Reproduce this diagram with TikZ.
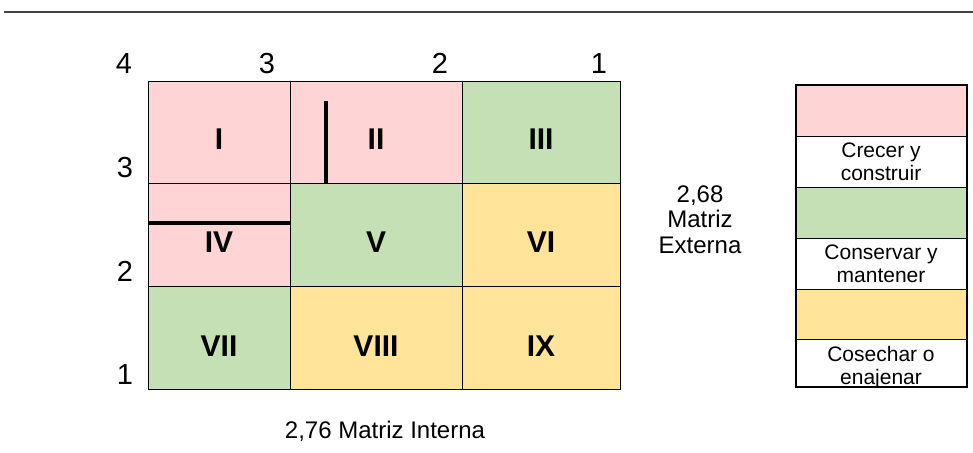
\documentclass[tikz,border=0pt]{standalone}
\usepackage{fontspec}
\setmainfont{Liberation Sans}
\definecolor{rojo}{HTML}{FFD4D4}
\definecolor{verde}{HTML}{C5E0B4}
\definecolor{amarillo}{HTML}{FFE499}
\definecolor{regla}{HTML}{444444}
\tikzset{
  cell/.style={draw=black, line width=1.3pt, inner sep=0pt, anchor=north west},
  roman/.style={anchor=base, font=\fontsize{30}{30}\selectfont\bfseries, inner sep=0pt},
  axisnum/.style={anchor=base, font=\fontsize{29}{29}\selectfont, inner sep=0pt},
  body/.style={font=\fontsize{21}{24}\selectfont, inner sep=0pt, align=center},
  caption/.style={font=\fontsize{24}{26}\selectfont, inner sep=0pt, anchor=base},
  legswatch/.style={draw=black, line width=1.2pt, inner sep=0pt, anchor=north west, minimum width=170pt},
  thickbar/.style={line width=4pt, black}
}
\begin{document}
\begin{tikzpicture}[x=1pt,y=-1pt]
\useasboundingbox (0,0) rectangle (973,452);

% rule across the top
\coordinate (ruleL) at (4,12);
\coordinate (ruleR) at (973,12);
\draw[regla, line width=2pt] (ruleL) -- (ruleR);

% 3x3 matrix cells (columns 148/290/462/620, rows 80.5/183/286/389)
\node[cell, fill=rojo,     minimum width=142pt, minimum height=102.5pt] (c1) at (148,80.5) {};
\node[cell, fill=rojo,     minimum width=172pt, minimum height=102.5pt] (c2) at (290,80.5) {};
\node[cell, fill=verde,    minimum width=158pt, minimum height=102.5pt] (c3) at (462,80.5) {};
\node[cell, fill=rojo,     minimum width=142pt, minimum height=103pt]   (c4) at (148,183) {};
\node[cell, fill=verde,    minimum width=172pt, minimum height=103pt]   (c5) at (290,183) {};
\node[cell, fill=amarillo, minimum width=158pt, minimum height=103pt]   (c6) at (462,183) {};
\node[cell, fill=verde,    minimum width=142pt, minimum height=103pt]   (c7) at (148,286) {};
\node[cell, fill=amarillo, minimum width=172pt, minimum height=103pt]   (c8) at (290,286) {};
\node[cell, fill=amarillo, minimum width=158pt, minimum height=103pt]   (c9) at (462,286) {};

% quadrant numerals
\node[roman] (r1) at (219,149) {I};
\node[roman] (r2) at (376,149) {II};
\node[roman] (r3) at (541,149) {III};
\node[roman] (r4) at (219,252) {IV};
\node[roman] (r5) at (376,252) {V};
\node[roman] (r6) at (541,252) {VI};
\node[roman] (r7) at (219,356) {VII};
\node[roman] (r8) at (376,356) {VIII};
\node[roman] (r9) at (541,356) {IX};

% position markers
\coordinate (vTop) at (326,101);
\coordinate (vBot) at (326,183);
\draw[thickbar] (vTop) -- (vBot);
\coordinate (hL) at (148,223);
\coordinate (hR) at (290,223);
\draw[thickbar] (hL) -- (hR);

% scale along the top
\node[axisnum] (t4) at (124,73) {4};
\node[axisnum] (t3) at (267,73) {3};
\node[axisnum] (t2) at (440,73) {2};
\node[axisnum] (t1) at (599,73) {1};
% scale along the left
\node[axisnum] (l3) at (125,177) {3};
\node[axisnum] (l2) at (125,281) {2};
\node[axisnum] (l1) at (125,384) {1};

% axis captions
\node[caption] (ext1) at (700,202) {2,68};
\node[caption] (ext2) at (700,227) {Matriz};
\node[caption] (ext3) at (700,253) {Externa};
\node[caption] (int) at (385,438) {2,76 Matriz Interna};

% legend
\node[legswatch, fill=rojo,     minimum height=51pt] (k1) at (796,85) {};
\node[legswatch, fill=white,    minimum height=51pt] (k2) at (796,136) {};
\node[legswatch, fill=verde,    minimum height=51pt] (k3) at (796,187) {};
\node[legswatch, fill=white,    minimum height=51pt] (k4) at (796,238) {};
\node[legswatch, fill=amarillo, minimum height=50pt] (k5) at (796,289) {};
\node[legswatch, fill=white,    minimum height=47pt] (k6) at (796,339) {};
\begin{scope}
  \clip (796,85) rectangle (966,386);
  \node[body, anchor=base] (k2a) at (881,157) {Crecer y};
  \node[body, anchor=base] (k2b) at (881,180) {construir};
  \node[body, anchor=base] (k4a) at (881,259) {Conservar y};
  \node[body, anchor=base] (k4b) at (881,282) {mantener};
  \node[body, anchor=base] (k6a) at (881,361) {Cosechar o};
  \node[body, anchor=base] (k6b) at (881,384) {enajenar};
\end{scope}
\draw[line width=1.2pt] (k1.north west) rectangle (k6.south east);
\end{tikzpicture}
\end{document}
